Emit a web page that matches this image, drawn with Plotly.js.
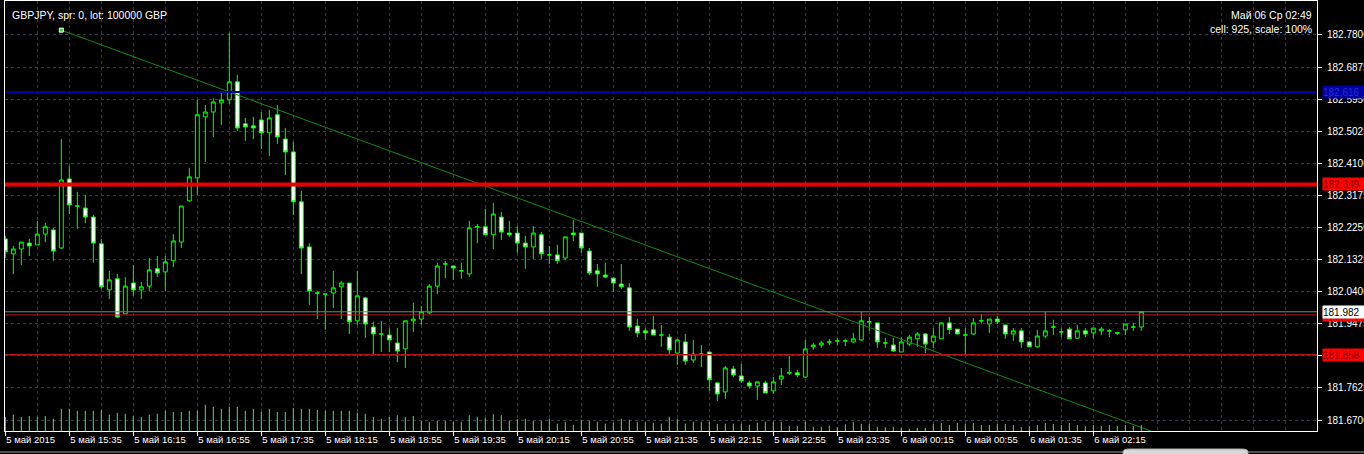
<!DOCTYPE html>
<html><head><meta charset="utf-8">
<script src="https://cdn.plot.ly/plotly-3.0.1.min.js"></script>
<style>html,body{margin:0;padding:0;background:#000;overflow:hidden}#chart{width:1364px;height:454px}</style>
</head><body><div id="chart"></div>
<script>
// ---- data (GBPJPY M5, 5 May 2015 14:55 -> 6 May 2015 02:45) ----
const open = [
182.192,182.149,182.163,182.180,182.175,182.206,182.218,182.166,182.365,182.287,
182.281,182.255,182.178,182.045,182.077,181.976,182.065,182.045,182.056,182.106,
182.097,182.129,182.183,182.302,182.368,182.544,182.558,182.584,182.593,182.645,
182.524,182.518,182.535,182.498,182.550,182.480,182.443,182.299,182.169,182.036,
182.033,182.036,182.054,182.065,181.956,182.022,181.938,181.918,181.915,181.892,
181.875,181.956,181.961,181.979,182.056,182.120,182.114,182.100,182.091,182.227,
182.227,182.204,182.255,182.209,182.209,182.180,182.169,182.204,182.146,182.146,
182.137,182.209,182.209,182.157,182.100,182.088,182.079,182.062,182.051,181.941,
181.927,181.930,181.915,181.909,181.863,181.895,181.843,181.860,181.866,181.777,
181.751,181.817,181.797,181.777,181.768,181.777,181.754,181.788,181.806,181.806,
181.794,181.881,181.886,181.895,181.898,181.898,181.895,181.901,181.953,181.950,
181.892,181.886,181.866,181.889,181.904,181.918,181.895,181.904,181.950,181.932,
181.915,181.918,181.956,181.947,181.961,181.944,181.918,181.927,181.895,181.881,
181.912,181.938,181.924,181.932,181.906,181.927,181.921,181.927,181.927,181.921,
181.930,181.938,181.938
];
const high = [
182.201,182.172,182.183,182.192,182.244,182.238,182.224,182.480,182.402,182.328,
182.319,182.261,182.192,182.100,182.091,182.082,182.117,182.068,182.137,182.143,
182.143,182.206,182.287,182.397,182.593,182.578,182.598,182.616,182.786,182.665,
182.541,182.544,182.558,182.564,182.578,182.512,182.472,182.330,182.180,182.042,
182.033,182.100,182.071,182.065,182.100,182.025,181.953,181.956,181.935,181.935,
181.956,182.008,181.999,182.062,182.123,182.129,182.114,182.123,182.244,182.235,
182.279,182.296,182.270,182.244,182.229,182.201,182.229,182.212,182.172,182.175,
182.198,182.247,182.209,182.166,182.120,182.123,182.082,182.120,182.065,181.961,
181.935,181.970,181.944,181.918,181.901,181.918,181.901,181.886,181.866,181.780,
181.826,181.826,181.832,181.783,181.780,181.783,181.794,181.820,181.855,181.814,
181.901,181.892,181.898,181.904,181.907,181.904,181.921,181.982,181.967,181.950,
181.907,181.907,181.909,181.915,181.924,181.921,181.935,181.950,181.967,181.932,
181.935,181.964,181.976,181.961,181.970,181.944,181.935,181.935,181.898,181.930,
181.982,181.959,181.935,181.938,181.944,181.935,181.935,181.938,181.932,181.924,
181.947,181.950,181.982
];
const low = [
182.137,182.091,182.117,182.143,182.175,182.183,182.129,182.163,182.264,182.221,
182.238,182.123,182.048,182.019,181.964,181.976,182.028,182.019,182.042,182.082,
182.042,182.111,182.166,182.299,182.319,182.414,182.486,182.521,182.581,182.503,
182.475,182.480,182.451,182.431,182.466,182.376,182.261,182.091,182.002,181.961,
181.930,181.993,181.961,181.918,181.944,181.907,181.860,181.866,181.866,181.837,
181.820,181.924,181.944,181.976,182.033,182.079,182.074,182.077,182.082,182.180,
182.204,182.163,182.189,182.198,182.152,182.106,182.134,182.134,182.120,182.120,
182.131,182.186,182.152,182.088,182.054,182.079,182.039,182.048,181.927,181.909,
181.901,181.915,181.881,181.860,181.829,181.829,181.835,181.823,181.754,181.725,
181.731,181.794,181.777,181.760,181.728,181.748,181.745,181.771,181.800,181.794,
181.791,181.872,181.878,181.886,181.886,181.883,181.892,181.898,181.927,181.878,
181.878,181.866,181.866,181.883,181.881,181.863,181.878,181.904,181.918,181.918,
181.858,181.915,181.947,181.921,181.947,181.904,181.898,181.878,181.881,181.878,
181.906,181.915,181.909,181.904,181.904,181.909,181.906,181.915,181.909,181.915,
181.915,181.927,181.927
];
const close = [
182.155,182.163,182.183,182.172,182.206,182.227,182.157,182.362,182.290,182.287,
182.255,182.180,182.054,182.074,181.967,182.056,182.045,182.054,182.103,182.094,
182.126,182.186,182.287,182.371,182.550,182.558,182.587,182.593,182.645,182.512,
182.515,182.512,182.498,182.541,182.486,182.443,182.299,182.166,182.042,182.036,
182.033,182.051,182.065,181.953,182.028,181.947,181.918,181.918,181.901,181.869,
181.956,181.961,181.982,182.056,182.114,182.120,182.108,182.100,182.224,182.227,
182.204,182.264,182.212,182.204,182.180,182.169,182.209,182.149,182.146,182.129,
182.198,182.204,182.166,182.094,182.091,182.082,182.065,182.054,181.938,181.921,
181.921,181.915,181.915,181.872,181.901,181.840,181.860,181.860,181.786,181.745,
181.820,181.800,181.783,181.768,181.780,181.748,181.780,181.797,181.806,181.800,
181.875,181.886,181.892,181.895,181.898,181.898,181.904,181.956,181.953,181.895,
181.892,181.869,181.895,181.909,181.918,181.889,181.912,181.950,181.931,181.918,
181.915,181.950,181.956,181.961,181.953,181.918,181.927,181.895,181.881,181.912,
181.927,181.938,181.924,181.904,181.927,181.918,181.935,181.932,181.927,181.921,
181.947,181.938,181.982
];
const volume = [
140,163,140,150,143,150,123,223,223,200,
200,200,210,163,180,173,150,140,163,173,
200,190,190,200,200,263,240,223,243,240,
200,223,190,223,190,190,230,223,223,210,
200,200,200,200,183,173,140,123,140,157,
140,150,100,90,100,100,93,93,157,143,
133,167,157,103,117,123,103,103,123,73,
93,63,113,103,93,73,83,123,113,93,
83,83,73,143,123,73,93,93,93,73,
73,73,73,63,83,93,93,93,50,50,
93,43,43,53,37,67,93,73,73,43,
37,43,33,23,30,30,70,80,60,80,
70,80,60,60,70,70,60,40,50,60,
80,70,60,80,60,47,60,50,60,50,
60,50,60
];
const timeLabels = ['5 май 2015','5 май 15:35','5 май 16:15','5 май 16:55','5 май 17:35','5 май 18:15',
  '5 май 18:55','5 май 19:35','5 май 20:15','5 май 20:55','5 май 21:35','5 май 22:15','5 май 22:55',
  '5 май 23:35','6 май 00:15','6 май 00:55','6 май 01:35','6 май 02:15'];
const priceTicks = [182.78,182.6875,182.595,182.5025,182.41,182.3175,182.225,182.1325,182.04,181.9475,181.855,181.7625,181.67];
const priceTickLabels = ['182.7800','182.6875','182.5950','182.5025','182.4100','182.3175','182.2250','182.1325','182.0400','181.9475','181.8550','181.7625','181.6700'];
const blueLevel = 182.616;
const redThickLevel = 182.349;
const bidLevel = 181.982;
const redLevelA = 181.973;
const redLevelB = 181.858;
const trendBars = [7, 145];
const trendPrices = [182.794, 181.623];

// ---- build ----
const idx = open.map((_, i) => i);
const barsPerLabel = 8, barsPerGrid = 4;
const tickvals = timeLabels.map((_, i) => i * barsPerLabel);
const minorVals = [];
for (let v = 0; v <= 164; v += barsPerGrid) minorVals.push(v);

const GRID = '#383852';
const paperX = px => (px - 5) / 1312;
const paperY = py => 1 - (py - 1) / 430;

const traces = [
  {type:'bar', x: idx, y: volume, yaxis:'y2', width: 0.13,
   marker:{color:'#5ad65a', line:{width:0}}, hoverinfo:'skip'},
  {type:'candlestick', x: idx, open, high, low, close,
   increasing:{line:{color:'#00ff00', width:1}, fillcolor:'#000000'},
   decreasing:{line:{color:'#00ff00', width:1}, fillcolor:'#ffffff'},
   whiskerwidth:0, hoverinfo:'skip'},
  {type:'scatter', mode:'lines', x: trendBars, y: trendPrices,
   line:{color:'#118a11', width:1}, hoverinfo:'skip'},
  {type:'scatter', mode:'markers', x:[trendBars[0]], y:[trendPrices[0]],
   marker:{symbol:'square', size:4, color:'#33cc33', line:{color:'#ffffff', width:1}}, hoverinfo:'skip', cliponaxis:false}
];

const hline = (y, color, width) => ({type:'line', xref:'paper', x0:0, x1:1, yref:'y', y0:y, y1:y,
  line:{color, width}, layer:'above'});

const priceTag = (y, text, bg, fg) => ({xref:'paper', x: paperX(1322), xanchor:'left', yref:'y', y, yanchor:'middle',
  text, showarrow:false, bgcolor:bg, font:{color:fg, size:10}, borderpad:0, width:46, height:12, align:'left'});

const tx0 = paperX(1123), tx1 = paperX(1248), tr = paperX(1129) - paperX(1123);
const ty0 = paperY(456), ty1 = paperY(449), tyr = paperY(449) - paperY(452);

const layout = {
  width:1364, height:454,
  margin:{l:5, r:47, t:1, b:23, pad:0},
  paper_bgcolor:'#000', plot_bgcolor:'#000',
  showlegend:false, dragmode:false,
  font:{family:'"Liberation Sans", Arial, sans-serif', color:'#ffffff', size:10},
  xaxis:{range:[-0.04,163.96], rangeslider:{visible:false}, tickmode:'array', tickvals, ticktext:timeLabels,
    ticks:'outside', ticklen:4, tickcolor:'#ffffff', ticklabelposition:'outside right',
    tickfont:{size:9.5, color:'#ffffff'},
    showgrid:true, gridcolor:GRID, griddash:'3px,3px', gridwidth:1,
    minor:{tickvals:minorVals, showgrid:true, gridcolor:GRID, griddash:'3px,3px', ticks:''},
    showline:true, linecolor:'#ffffff', linewidth:1, mirror:true, zeroline:false, fixedrange:true},
  yaxis:{side:'right', range:[181.6383,182.878], tickmode:'array', tickvals:priceTicks, ticktext:priceTickLabels,
    ticks:'outside', ticklen:4, tickcolor:'#ffffff', tickfont:{size:10, color:'#ffffff'}, ticklabelstandoff:3,
    showgrid:true, gridcolor:GRID, griddash:'3px,3px', gridwidth:1,
    showline:true, linecolor:'#ffffff', linewidth:1, mirror:true, zeroline:false, fixedrange:true},
  yaxis2:{overlaying:'y', range:[0,4300], visible:false, fixedrange:true},
  shapes:[
    hline(blueLevel, '#0000a8', 2),
    hline(redThickLevel, '#ee0000', 4),
    hline(bidLevel, '#7080a0', 1),
    hline(redLevelA, '#b01818', 1),
    hline(redLevelB, '#b01818', 1.5),
    {type:'line', xref:'paper', yref:'paper', x0:-0.01, x1:1.05, y0:paperY(452), y1:paperY(452),
     line:{color:'#9a9a9a', width:1}, layer:'above'},
    {type:'path', xref:'paper', yref:'paper', layer:'above',
     path:`M ${tx0} ${ty0} L ${tx0} ${ty1 - tyr} Q ${tx0} ${ty1} ${tx0 + tr} ${ty1} L ${tx1 - tr} ${ty1} Q ${tx1} ${ty1} ${tx1} ${ty1 - tyr} L ${tx1} ${ty0} Z`,
     fillcolor:'#d8d8d8', line:{color:'#a8a8a8', width:1}}
  ],
  annotations:[
    {xref:'paper', yref:'paper', x:paperX(11), y:paperY(15), xanchor:'left', yanchor:'middle',
     text:'GBPJPY, spr: 0, lot: 100000 GBP', showarrow:false, font:{size:10.5, color:'#ffffff'}, borderpad:0},
    {xref:'paper', yref:'paper', x:paperX(1313), y:paperY(15), xanchor:'right', yanchor:'middle',
     text:'Май 06 Ср 02:49', showarrow:false, font:{size:10.5, color:'#ffffff'}, borderpad:0},
    {xref:'paper', yref:'paper', x:paperX(1313), y:paperY(28.5), xanchor:'right', yanchor:'middle',
     text:'cell: 925, scale: 100%', showarrow:false, font:{size:10.5, color:'#ffffff'}, borderpad:0},
    priceTag(blueLevel, '182.616', '#0000a0', '#2a2ad8'),
    priceTag(redThickLevel, '182.349', '#ff0000', '#8a0000'),
    priceTag(redLevelA, '181.973', '#ff0000', '#8a0000'),
    priceTag(bidLevel, '181.982', '#ffffff', '#000000'),
    priceTag(redLevelB, '181.858', '#ff0000', '#8a0000')
  ]
};

Plotly.newPlot('chart', traces, layout, {staticPlot:true, displayModeBar:false});
</script>
</body></html>
